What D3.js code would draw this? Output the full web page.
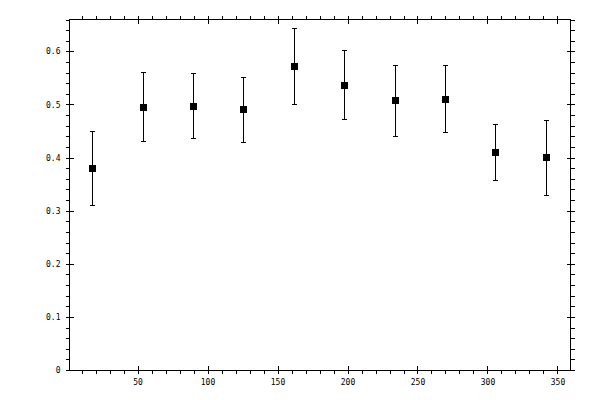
<!DOCTYPE html>
<html>
<head>
<meta charset="utf-8">
<script src="https://cdn.jsdelivr.net/npm/d3@7"></script>
<style>
  html, body { margin: 0; padding: 0; background: #fff; }
  svg { display: block; }
  .axis text { font-family: "DejaVu Sans Mono", monospace; font-size: 8px; fill: #000; }
  .axis line, .axis path { stroke: #000; shape-rendering: crispEdges; }
</style>
</head>
<body>
<svg id="chart" width="600" height="400"></svg>
<script>
// values
var xValues = [18, 54, 90, 126, 162, 198, 234, 270, 306, 342];
var yValues = [0.379, 0.494, 0.496, 0.491, 0.572, 0.536, 0.508, 0.510, 0.410, 0.400];
var yUpper  = [0.449, 0.560, 0.559, 0.551, 0.643, 0.602, 0.574, 0.574, 0.462, 0.470];
var yLower  = [0.310, 0.430, 0.435, 0.428, 0.500, 0.472, 0.440, 0.447, 0.357, 0.329];

var xMajorTicks = [50, 100, 150, 200, 250, 300, 350];
var xMinorTicks = d3.range(10, 360, 10);
var yMajorTicks = [0, 0.1, 0.2, 0.3, 0.4, 0.5, 0.6];
var yMinorTicks = d3.range(0, 0.661, 0.02);
var yTickLabels = ["0", "0.1", "0.2", "0.3", "0.4", "0.5", "0.6"];

(function() {
  var svg = d3.select("#chart");

  // NB: `top` is taken by window.top, hence the plot* names
  var plotLeft = 69.5, plotRight = 570.5, plotTop = 19.5, plotBottom = 370;

  var x = d3.scaleLinear().domain([1.4, 359.3]).range([plotLeft, plotRight]);
  var y = d3.scaleLinear().domain([0, 0.66]).range([plotBottom, plotTop]);

  var noLabel = function() { return ""; };

  // one side of the frame: minor ticks outward, major ticks crossing it
  function side(axisFn, scale, pos, major, minor, fmt) {
    var g = svg.append("g").attr("class", "axis").attr("transform", pos);
    g.append("g").call(axisFn(scale).tickValues(minor).tickSize(4).tickFormat(noLabel))
      .select(".domain").remove();
    g.append("g").call(axisFn(scale).tickValues(major).tickSizeInner(-4).tickSizeOuter(0).tickFormat(noLabel))
      .select(".domain").remove();
    g.append("g").call(axisFn(scale).tickValues(major).tickSize(4).tickPadding(5).tickFormat(fmt || noLabel))
      .select(".domain").remove();
    return g;
  }

  side(d3.axisBottom, x, "translate(0," + plotBottom + ")", xMajorTicks, xMinorTicks, d3.format("d"));
  side(d3.axisTop, x, "translate(0," + plotTop + ")", xMajorTicks, xMinorTicks);
  side(d3.axisLeft, y, "translate(" + plotLeft + ",0)", yMajorTicks, yMinorTicks,
    function(d, i) { return yTickLabels[i]; });
  side(d3.axisRight, y, "translate(" + plotRight + ",0)", yMajorTicks, yMinorTicks);

  // frame
  svg.append("rect")
    .attr("x", plotLeft).attr("y", plotTop)
    .attr("width", plotRight - plotLeft).attr("height", plotBottom - plotTop + 0.5)
    .attr("fill", "none").attr("stroke", "#000")
    .attr("shape-rendering", "crispEdges");

  var pts = xValues.map(function(v, i) {
    return { x: v, y: yValues[i], hi: yUpper[i], lo: yLower[i] };
  });

  // error bars
  var bars = svg.append("g").attr("stroke", "#000").attr("shape-rendering", "crispEdges");

  bars.selectAll("line.stem").data(pts).enter().append("line")
    .attr("class", "stem")
    .attr("x1", function(d) { return x(d.x); }).attr("x2", function(d) { return x(d.x); })
    .attr("y1", function(d) { return y(d.hi); }).attr("y2", function(d) { return y(d.lo); });

  bars.selectAll("line.capHi").data(pts).enter().append("line")
    .attr("class", "capHi")
    .attr("x1", function(d) { return x(d.x) - 2.5; }).attr("x2", function(d) { return x(d.x) + 2.5; })
    .attr("y1", function(d) { return y(d.hi); }).attr("y2", function(d) { return y(d.hi); });

  bars.selectAll("line.capLo").data(pts).enter().append("line")
    .attr("class", "capLo")
    .attr("x1", function(d) { return x(d.x) - 2.5; }).attr("x2", function(d) { return x(d.x) + 2.5; })
    .attr("y1", function(d) { return y(d.lo); }).attr("y2", function(d) { return y(d.lo); });

  // square markers
  svg.append("g").selectAll("rect").data(pts).enter().append("rect")
    .attr("x", function(d) { return x(d.x) - 3.5; })
    .attr("y", function(d) { return y(d.y) - 3.5; })
    .attr("width", 7).attr("height", 7)
    .attr("fill", "#000")
    .attr("shape-rendering", "crispEdges");
})();
</script>
</body>
</html>
